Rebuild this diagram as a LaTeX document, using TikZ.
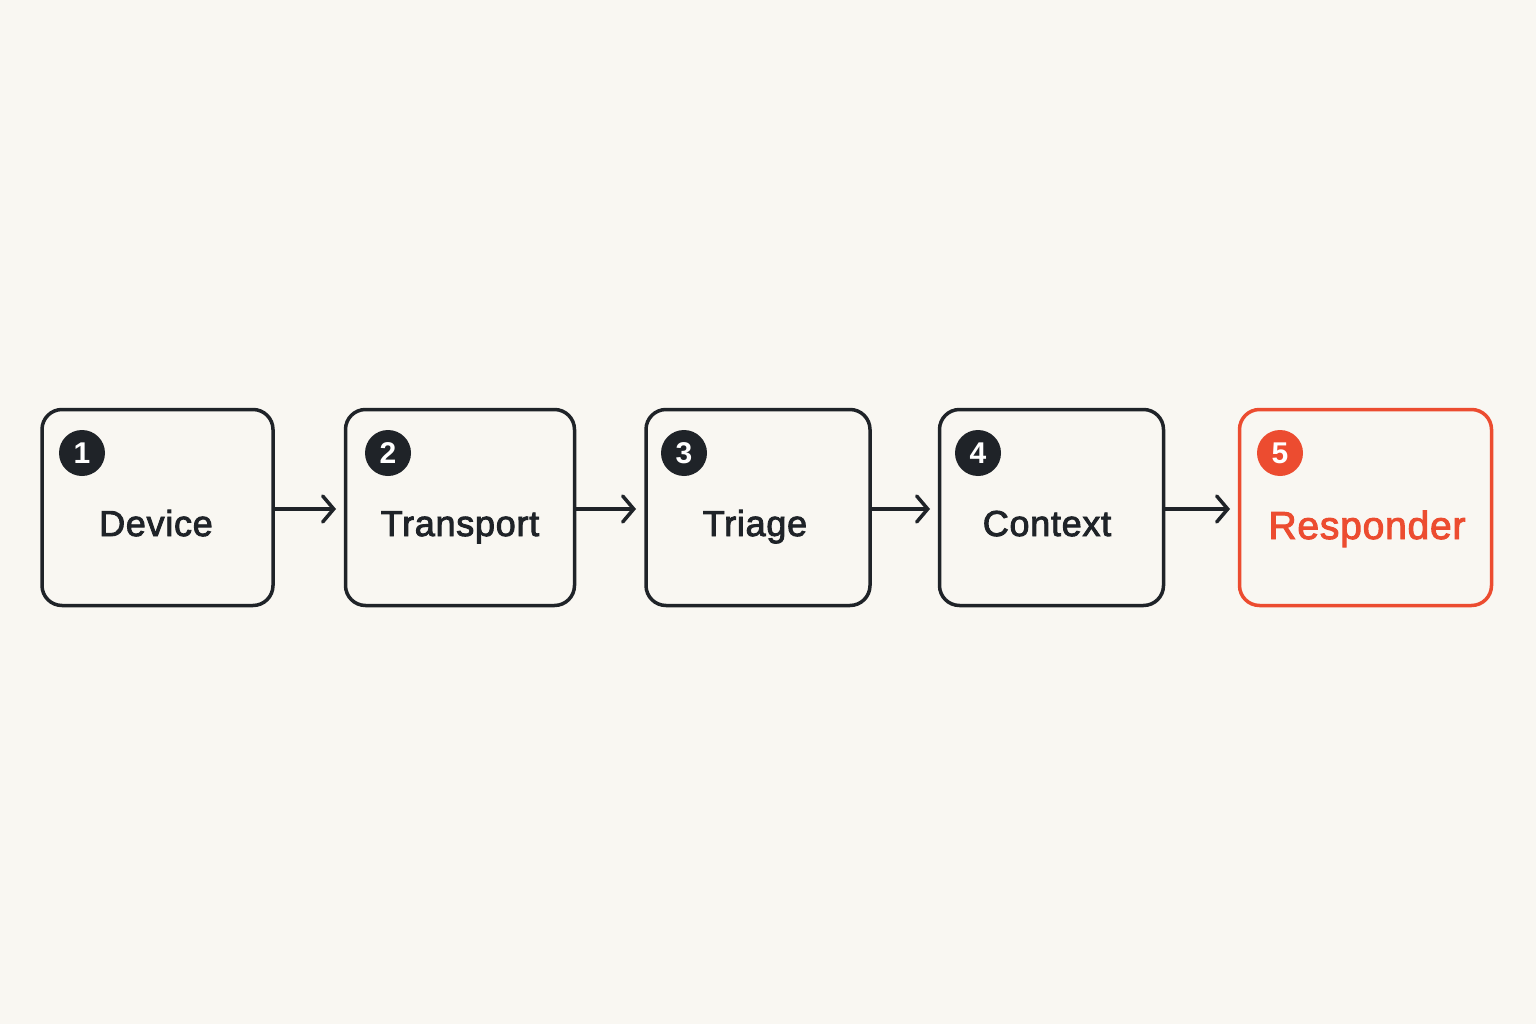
\documentclass[tikz,border=0pt]{standalone}
\usepackage{fontspec}
\setmainfont{Liberation Sans}
\newfontfamily\lblfont{Liberation Sans}[RawFeature={embolden=2.5},LetterSpace=2]
\newfontfamily\numfont{Liberation Sans Bold}
\usetikzlibrary{arrows.meta}
\definecolor{bg}{RGB}{249,247,242}
\definecolor{ink}{RGB}{31,35,40}
\definecolor{hot}{RGB}{236,76,48}
\tikzset{
  stepbox/.style={draw=ink, line width=3.5pt, rounded corners=20pt, minimum height=196pt, inner sep=0pt},
  hotbox/.style={stepbox, draw=hot},
  badge/.style={circle, fill=ink, minimum size=46pt, inner sep=0pt, text=white, font=\numfont\fontsize{30pt}{30pt}\selectfont},
  hotbadge/.style={badge, fill=hot},
  lbl/.style={anchor=base, text=ink, inner sep=0pt, font=\lblfont\fontsize{36pt}{36pt}\selectfont},
  hotlbl/.style={lbl, text=hot, font=\lblfont\fontsize{39pt}{39pt}\selectfont},
  flow/.style={draw=ink, line width=3.5pt, -{Straight Barb[length=11pt,width=26pt,line width=3.5pt,line cap=round]}, shorten >=1pt}
}
\begin{document}
\begin{tikzpicture}[x=1pt,y=-1pt]
\fill[bg] (0,0) rectangle (1536,1024);
\useasboundingbox (0,0) rectangle (1536,1024);
\node[stepbox, minimum width=231pt] (b1) at (157.5,507.5) {};
\node[stepbox, minimum width=229pt] (b2) at (460,507.5) {};
\node[stepbox, minimum width=224pt] (b3) at (758,507.5) {};
\node[stepbox, minimum width=224pt] (b4) at (1051.5,507.5) {};
\node[hotbox, minimum width=252pt] (b5) at (1365.5,507.5) {};
\node[badge] (n1) at (82,453) {1};
\node[badge] (n2) at (388,453) {2};
\node[badge] (n3) at (684,453) {3};
\node[badge] (n4) at (978,453) {4};
\node[hotbadge] (n5) at (1280,453) {5};
\node[lbl] (t1) at (156,536) {Device};
\node[lbl] (t2) at (460,536) {Transport};
\node[lbl] (t3) at (755,536) {Triage};
\node[lbl] (t4) at (1047,536) {Context};
\node[hotlbl] (t5) at (1367,539) {Responder};
\coordinate (e1) at (337,509);
\coordinate (e2) at (637,509);
\coordinate (e3) at (931,509);
\coordinate (e4) at (1231,509);
\draw[flow] (b1.east |- e1) -- (e1);
\draw[flow] (b2.east |- e2) -- (e2);
\draw[flow] (b3.east |- e3) -- (e3);
\draw[flow] (b4.east |- e4) -- (e4);
\end{tikzpicture}
\end{document}
